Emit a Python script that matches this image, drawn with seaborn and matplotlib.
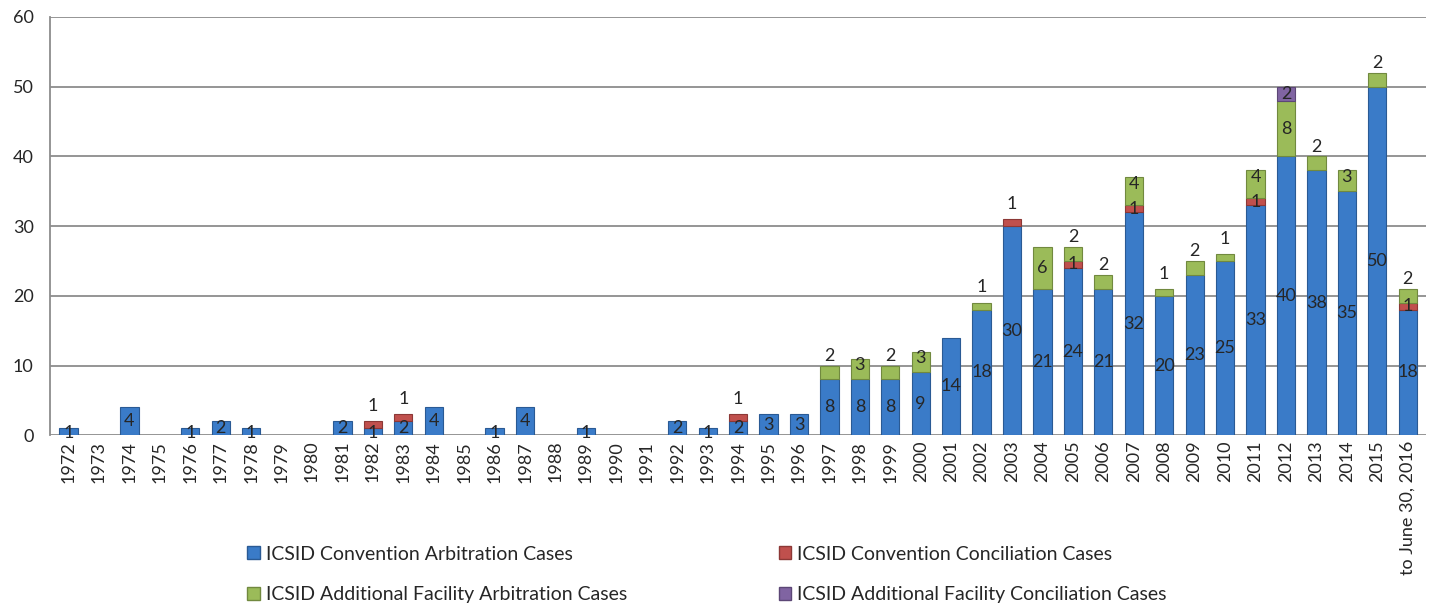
import numpy as np
import pandas as pd
import matplotlib
matplotlib.use("Agg")
import matplotlib.pyplot as plt
import seaborn as sns
from matplotlib.patches import Patch

years = [str(y) for y in range(1972, 2016)] + ["to June 30, 2016"]

conv_arb = [1, 0, 4, 0, 1, 2, 1, 0, 0, 2, 1, 2, 4, 0, 1, 4, 0, 1, 0, 0, 2, 1, 2, 3, 3,
            8, 8, 8, 9, 14, 18, 30, 21, 24, 21, 32, 20, 23, 25, 33, 40, 38, 35, 50, 18]
conv_conc = [0, 0, 0, 0, 0, 0, 0, 0, 0, 0, 1, 1, 0, 0, 0, 0, 0, 0, 0, 0, 0, 0, 1, 0, 0,
             0, 0, 0, 0, 0, 0, 1, 0, 1, 0, 1, 0, 0, 0, 1, 0, 0, 0, 0, 1]
af_arb = [0, 0, 0, 0, 0, 0, 0, 0, 0, 0, 0, 0, 0, 0, 0, 0, 0, 0, 0, 0, 0, 0, 0, 0, 0,
          2, 3, 2, 3, 0, 1, 0, 6, 2, 2, 4, 1, 2, 1, 4, 8, 2, 3, 2, 2]
af_conc = [0] * 40 + [2, 0, 0, 0, 0]

series_names = ["ICSID Convention Arbitration Cases", "ICSID Convention Conciliation Cases",
                "ICSID Additional Facility Arbitration Cases", "ICSID Additional Facility Conciliation Cases"]
colors = ["#3a7bc8", "#c0504d", "#9bbb59", "#8064a2"]
edges = ["#2a5a94", "#8c3836", "#71893f", "#5c4776"]

sns.set_style("white")
plt.rcParams["font.family"] = ["Lato", "DejaVu Sans"]

fig, ax = plt.subplots(figsize=(14.36, 6.07), dpi=100)

df = pd.DataFrame({"year": years, "a": conv_arb, "b": conv_conc, "c": af_arb, "d": af_conc})
bottom = np.zeros(len(df))
for col, c, e in zip(["a", "b", "c", "d"], colors, edges):
    vals = df[col].values.astype(float)
    sns.barplot(x=df["year"], y=vals, bottom=bottom, order=years, color=c, edgecolor=e,
                linewidth=0.8, width=0.6, saturation=1, ax=ax)
    bottom = bottom + vals

# hide empty segments so their edges don't show
for p in ax.patches:
    if p.get_height() == 0:
        p.set_visible(False)

# value labels
for i in range(len(years)):
    a, b, c, d = conv_arb[i], conv_conc[i], af_arb[i], af_conc[i]
    if a > 0:
        ax.text(i, a / 2 if a > 1 else 0.35, str(a), ha="center", va="center", fontsize=13)
    if b > 0:
        if c == 0:
            ax.text(i, a + b + 2.2, str(b), ha="center", va="center", fontsize=13)
        else:
            ax.text(i, a + b / 2, str(b), ha="center", va="center", fontsize=13)
    if c > 0:
        y0 = a + b
        if c >= 5:
            ax.text(i, y0 + c / 2, str(c), ha="center", va="center", fontsize=13)
        elif c >= 3:
            ax.text(i, y0 + c - 0.9, str(c), ha="center", va="center", fontsize=13)
        else:
            ax.text(i, y0 + c + 1.4 + (0.8 if c == 1 else 0), str(c), ha="center", va="center", fontsize=13)
    if d > 0:
        ax.text(i, a + b + c + d / 2, str(d), ha="center", va="center", fontsize=13)

ax.set_ylim(0, 60)
ax.set_yticks(range(0, 61, 10))
ax.set_xlim(-0.6, len(years) - 0.4)
ax.yaxis.grid(True, color="#8c8c8c", linewidth=1.3)
ax.set_axisbelow(True)
for s in ["top", "right", "bottom"]:
    ax.spines[s].set_visible(False)
ax.spines["left"].set_color("#8c8c8c")
ax.spines["left"].set_linewidth(1.3)
ax.tick_params(axis="x", rotation=90, labelsize=13, length=0, pad=4)
ax.tick_params(axis="y", labelsize=13, length=0, pad=12)
ax.set_xlabel("")
ax.set_ylabel("")

# legend filled row by row: arb, conc / AF arb, AF conc
handles = [Patch(facecolor=c, edgecolor=e) for c, e in zip(colors, edges)]
order = [0, 2, 1, 3]
fig.legend([handles[k] for k in order], [series_names[k] for k in order],
           loc="lower left", bbox_to_anchor=(0.16, -0.022), ncol=2,
           frameon=False, fontsize=14, handlelength=0.65, handleheight=0.65, handletextpad=0.3,
           columnspacing=7.8, labelspacing=1.2)

plt.subplots_adjust(left=0.035, right=0.993, top=0.972, bottom=0.283)
fig.savefig("out.png", dpi=100)
